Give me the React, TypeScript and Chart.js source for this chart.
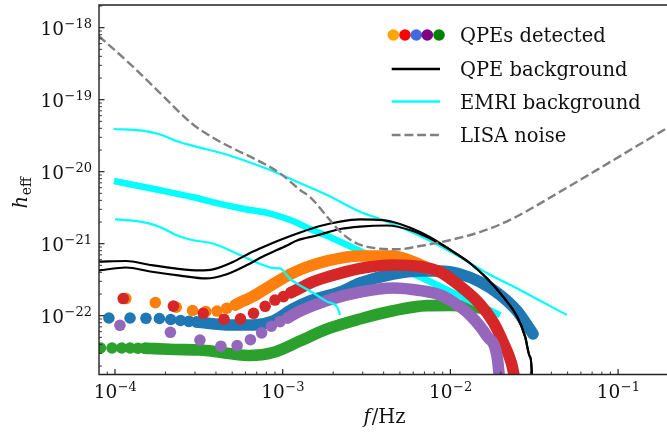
import React, { useEffect, useRef } from 'react';
import { Chart, registerables } from 'chart.js';

Chart.register(...registerables);

// ---------- axes ----------
const X_MIN = 8.03e-5;
const X_MAX = 0.1957;
const Y_MIN = 1.525e-23;
const Y_MAX = 2.066e-18;
const X_MAJOR = [1e-4, 1e-3, 1e-2, 1e-1];
const X_MAJOR_EXP = ['−4', '−3', '−2', '−1'];
const Y_MAJOR = [1e-18, 1e-19, 1e-20, 1e-21, 1e-22];
const Y_MAJOR_EXP = ['−18', '−19', '−20', '−21', '−22'];
const X_DECADES = [1e-5, 1e-4, 1e-3, 1e-2, 1e-1];
const Y_DECADES = [1e-24, 1e-23, 1e-22, 1e-21, 1e-20, 1e-19, 1e-18];
const MINOR_MULTS = [2, 3, 4, 5, 6, 7, 8, 9];

// ---------- legend ----------
const LEGEND_LABELS = ['QPEs detected', 'QPE background', 'EMRI background', 'LISA noise'];
const LEGEND_DOT_COLORS = ['#ffa500', '#ff0000', '#4169e1', '#800080', '#008000'];

// ---------- LISA noise ----------
const LISA_F = [8.0e-5, 1.285e-4, 1.94e-4, 2.86e-4, 3.8e-4, 5.05e-4, 7.33e-4, 9.64e-4, 1.27e-3, 1.455e-3, 1.91e-3, 2.2e-3, 2.76e-3, 3.64e-3, 4.88e-3, 6.59e-3, 1.0e-2, 1.5e-2, 2.27e-2, 4.69e-2, 7.48e-2, 0.196];
const LISA_H = [7.7e-19, 2.85e-19, 1.12e-19, 4.7e-20, 3.0e-20, 2.11e-20, 1.38e-20, 9.5e-21, 5.57e-21, 4.45e-21, 2.14e-21, 1.47e-21, 1.01e-21, 8.63e-22, 8.36e-22, 9.29e-22, 1.125e-21, 1.45e-21, 2.14e-21, 5.57e-21, 1.06e-20, 4.05e-20];

// ---------- EMRI background ----------
const EMRI_TOP_F = [9.8e-5, 1.449e-4, 1.82e-4, 2.4e-4, 3.16e-4, 4.35e-4, 6.56e-4, 8.63e-4, 1.15e-3, 1.84e-3, 2.89e-3, 3.96e-3, 6.59e-3, 8.67e-3, 1.14e-2, 1.65e-2, 2.6e-2, 4.95e-2];
const EMRI_TOP_H = [3.92e-20, 3.71e-20, 3.34e-20, 2.61e-20, 2.18e-20, 1.8e-20, 1.31e-20, 1.03e-20, 7.67e-21, 4.74e-21, 2.78e-21, 2.13e-21, 1.28e-21, 9.29e-22, 6.53e-22, 3.92e-22, 2.28e-22, 1.02e-22];
const EMRI_MID_F = [9.86e-5, 1.83e-4, 2.88e-4, 4.17e-4, 5.71e-4, 8.63e-4, 1.15e-3, 1.455e-3, 1.91e-3, 2.89e-3, 4.36e-3, 6.59e-3, 1.14e-2, 1.98e-2];
const EMRI_MID_H = [7.43e-21, 5.57e-21, 4.45e-21, 3.61e-21, 3.08e-21, 2.58e-21, 2.07e-21, 1.6e-21, 1.24e-21, 7.92e-22, 5.22e-22, 3.44e-22, 1.88e-22, 1.02e-22];
const EMRI_LOW_F = [1.0e-4, 1.41e-4, 1.85e-4, 2.31e-4, 2.88e-4, 3.84e-4, 5.56e-4, 7.63e-4, 8.75e-4, 9.64e-4, 1.106e-3, 1.455e-3, 1.84e-3, 2.11e-3, 2.2e-3];
const EMRI_LOW_H = [2.18e-21, 2.02e-21, 1.71e-21, 1.32e-21, 1.125e-21, 1.006e-21, 6.97e-22, 5.06e-22, 4.59e-22, 4.53e-22, 3.24e-22, 2.2e-22, 1.57e-22, 1.32e-22, 1.02e-22];

// ---------- QPE background ----------
const QPE_BG_UP_F = [8.03e-5, 1.164e-4, 1.62e-4, 2.28e-4, 3.21e-4, 3.84e-4, 5.05e-4, 6.38e-4, 8.05e-4, 9.64e-4, 1.27e-3, 1.67e-3, 2.2e-3, 2.89e-3, 3.96e-3, 5.0e-3, 6.59e-3, 8.67e-3, 1.037e-2, 1.31e-2, 1.65e-2, 2.06e-2, 2.5e-2, 2.79e-2, 2.98e-2, 3.06e-2, 3.07e-2];
const QPE_BG_UP_H = [5.62e-22, 5.75e-22, 5.06e-22, 4.53e-22, 4.25e-22, 4.39e-22, 5.57e-22, 7.43e-22, 9.44e-22, 1.125e-21, 1.43e-21, 1.76e-21, 2.03e-21, 2.17e-21, 2.13e-21, 1.88e-21, 1.45e-21, 1.02e-21, 7.75e-22, 5.35e-22, 3.31e-22, 1.84e-22, 9.68e-23, 5.11e-23, 2.7e-23, 1.5e-23, 1e-24];
const QPE_BG_LOW_F = [8.03e-5, 1.164e-4, 1.62e-4, 2.44e-4, 3.49e-4, 4.59e-4, 5.96e-4, 7.83e-4, 1.06e-3, 1.217e-3, 1.6e-3, 2.2e-3, 2.89e-3, 4.19e-3, 5.98e-3, 7.87e-3, 1.037e-2, 1.31e-2, 1.65e-2, 2.06e-2, 2.5e-2, 2.79e-2, 2.98e-2, 3.06e-2, 3.07e-2];
const QPE_BG_LOW_H = [4.25e-22, 4.67e-22, 4.11e-22, 3.61e-22, 3.29e-22, 3.73e-22, 4.9e-22, 6.85e-22, 9.44e-22, 1.107e-21, 1.3e-21, 1.6e-21, 1.73e-21, 1.79e-21, 1.5e-21, 1.125e-21, 7.75e-22, 5.35e-22, 3.31e-22, 1.84e-22, 9.68e-23, 5.11e-23, 2.7e-23, 1.5e-23, 1e-24];

// ---------- QPEs detected (sparse harmonics + dense part) ----------
const ORANGE_DOT_F = [1.16e-4, 1.74e-4, 2.32e-4, 2.9e-4, 3.48e-4, 4.06e-4, 4.64e-4, 5.22e-4];
const ORANGE_DOT_H = [1.73e-22, 1.52e-22, 1.31e-22, 1.18e-22, 1.14e-22, 1.16e-22, 1.27e-22, 1.41e-22];
const ORANGE_BAND_F = [5.22e-4, 5.8e-4, 6.56e-4, 8.05e-4, 1.15e-3, 1.84e-3, 2.89e-3, 4.55e-3, 5.74e-3, 7.55e-3];
const ORANGE_BAND_H = [1.41e-22, 1.6e-22, 1.82e-22, 2.43e-22, 3.92e-22, 5.75e-22, 6.75e-22, 6.75e-22, 5.85e-22, 4.46e-22];

const RED_DOT_F = [1.12e-4, 2.23e-4, 3.36e-4, 4.47e-4, 5.6e-4, 6.7e-4, 7.86e-4, 8.99e-4, 1.01e-3, 1.12e-3];
const RED_DOT_H = [1.73e-22, 1.36e-22, 1.08e-22, 8.93e-23, 9.05e-23, 1.08e-22, 1.35e-22, 1.65e-22, 1.84e-22, 2.09e-22];
const RED_BAND_F = [1.12e-3, 1.23e-3, 1.455e-3, 1.84e-3, 2.89e-3, 4.55e-3, 6.59e-3, 8.67e-3, 1.14e-2, 1.5e-2, 1.8e-2, 2.06e-2, 2.31e-2, 2.46e-2];
const RED_BAND_H = [2.09e-22, 2.33e-22, 2.84e-22, 3.44e-22, 4.53e-22, 5.06e-22, 4.82e-22, 4.05e-22, 2.58e-22, 1.45e-22, 8.17e-23, 4.31e-23, 2.2e-23, 1.1e-23];

const BLUE_DOT_F = [9.2e-5, 1.23e-4, 1.53e-4, 1.84e-4, 2.15e-4, 2.46e-4, 2.76e-4, 3.07e-4];
const BLUE_DOT_H = [9.29e-23, 9.29e-23, 9.2e-23, 9.14e-23, 8.85e-23, 8.57e-23, 8.35e-23, 8.18e-23];
const BLUE_BAND_F = [3.07e-4, 4.85e-4, 6.65e-4, 8.75e-4, 1.15e-3, 1.455e-3, 2.2e-3, 2.89e-3, 4.55e-3, 6.59e-3, 8.67e-3, 1.14e-2, 1.5e-2, 1.98e-2, 2.5e-2, 3.11e-2];
const BLUE_BAND_H = [8.18e-23, 7.43e-23, 7.43e-23, 8.43e-23, 1.24e-22, 1.6e-22, 2.13e-22, 2.84e-22, 3.79e-22, 4.18e-22, 4.18e-22, 3.79e-22, 2.94e-22, 1.94e-22, 1.16e-22, 5.57e-23];

const PURPLE_DOT_F = [1.07e-4, 2.14e-4, 3.21e-4, 4.28e-4, 5.35e-4, 6.42e-4, 7.49e-4, 8.56e-4, 9.63e-4, 1.07e-3];
const PURPLE_DOT_H = [7.36e-23, 5.88e-23, 4.59e-23, 3.77e-23, 3.85e-23, 4.64e-23, 5.78e-23, 7.13e-23, 8.26e-23, 9.29e-23];
const PURPLE_BAND_F = [1.07e-3, 1.27e-3, 1.84e-3, 2.89e-3, 4.55e-3, 6.59e-3, 8.67e-3, 1.037e-2, 1.31e-2, 1.65e-2, 1.9e-2, 1.98e-2];
const PURPLE_BAND_H = [9.29e-23, 1.16e-22, 1.63e-22, 2.13e-22, 2.43e-22, 2.24e-22, 1.94e-22, 1.55e-22, 1.02e-22, 5.22e-23, 2.67e-23, 1.1e-23];

const GREEN_DOT_F = [8.2e-5, 9.6e-5, 1.096e-4, 1.23e-4, 1.37e-4, 1.51e-4];
const GREEN_DOT_H = [3.56e-23, 3.56e-23, 3.56e-23, 3.56e-23, 3.53e-23, 3.53e-23];
const GREEN_BAND_F = [1.51e-4, 1.64e-4, 2.28e-4, 3.21e-4, 3.94e-4, 5.05e-4, 6.38e-4, 8.75e-4, 1.27e-3, 1.84e-3, 2.89e-3, 4.55e-3, 7.24e-3, 1.0e-2, 1.52e-2];
const GREEN_BAND_H = [3.53e-23, 3.5e-23, 3.4e-23, 3.34e-23, 3.18e-23, 2.94e-23, 2.8e-23, 3.08e-23, 4.46e-23, 6.53e-23, 9.0e-23, 1.17e-22, 1.38e-22, 1.39e-22, 1.28e-22];

// ---------- styles ----------
const C_ORANGE = '#ff7f0e';
const C_RED = '#d62728';
const C_BLUE = '#1f77b4';
const C_PURPLE = '#9467bd';
const C_GREEN = '#2ca02c';
const C_CYAN = '#00ffff';
const C_GRAY = '#808080';
const SERIF = '"DejaVu Serif", serif';
const DOT_R = 5.8;
const BAND_W = 11.6;
const DASH = [8.9, 3.85];

const pts = (f: number[], h: number[]) => f.map((x, i) => ({ x, y: h[i] }));

function dots(f: number[], h: number[], color: string, order: number) {
  return {
    data: pts(f, h),
    showLine: false,
    pointRadius: DOT_R,
    pointBackgroundColor: color,
    pointBorderColor: color,
    pointBorderWidth: 0,
    order,
    clip: 0,
  };
}

function line(f: number[], h: number[], color: string, width: number, order: number, extra: any = {}) {
  return {
    data: pts(f, h),
    showLine: true,
    pointRadius: 0,
    borderColor: color,
    backgroundColor: color,
    borderWidth: width,
    borderCapStyle: 'round',
    borderJoinStyle: 'round',
    cubicInterpolationMode: 'monotone',
    fill: false,
    order,
    clip: 0,
    ...extra,
  };
}

const decorPlugin = {
  id: 'decor',
  afterDraw(chart: any) {
    const { ctx, chartArea: a, scales } = chart;
    const xs = scales.x;
    const ys = scales.y;
    ctx.save();
    // spines
    ctx.strokeStyle = '#222';
    ctx.lineWidth = 1.4;
    ctx.beginPath();
    ctx.moveTo(a.left, a.bottom);
    ctx.lineTo(a.left, a.top);
    ctx.lineTo(a.right + 2, a.top);
    ctx.moveTo(a.left - 0.7, a.bottom);
    ctx.lineTo(a.right + 2, a.bottom);
    ctx.stroke();

    // ticks (inward)
    const xTick = (v: number, len: number, w: number) => {
      const px = xs.getPixelForValue(v);
      if (px < a.left + 0.5 || px > a.right) return;
      ctx.lineWidth = w;
      ctx.beginPath();
      ctx.moveTo(px, a.bottom);
      ctx.lineTo(px, a.bottom - len);
      ctx.stroke();
    };
    const yTick = (v: number, len: number, w: number) => {
      const py = ys.getPixelForValue(v);
      if (py < a.top + 0.5 || py > a.bottom - 0.5) return;
      ctx.lineWidth = w;
      ctx.beginPath();
      ctx.moveTo(a.left, py);
      ctx.lineTo(a.left + len, py);
      ctx.stroke();
    };
    X_DECADES.forEach((d) => MINOR_MULTS.forEach((m) => xTick(d * m, 3, 0.9)));
    X_MAJOR.forEach((v) => xTick(v, 5.5, 1.2));
    Y_DECADES.forEach((d) => MINOR_MULTS.forEach((m) => yTick(d * m, 3, 0.9)));
    Y_MAJOR.forEach((v) => yTick(v, 5.5, 1.2));

    // tick labels
    ctx.fillStyle = '#111';
    ctx.textBaseline = 'alphabetic';
    ctx.textAlign = 'left';
    const BIG = `18.5px ${SERIF}`;
    const SMALL = `13px ${SERIF}`;
    X_MAJOR.forEach((v, i) => {
      const px = xs.getPixelForValue(v);
      ctx.font = BIG;
      const w1 = ctx.measureText('10').width;
      ctx.font = SMALL;
      const w2 = ctx.measureText(X_MAJOR_EXP[i]).width;
      const left = px - (w1 + w2) / 2;
      ctx.font = BIG;
      ctx.fillText('10', left, 398);
      ctx.font = SMALL;
      ctx.fillText(X_MAJOR_EXP[i], left + w1 + 0.5, 390.5);
    });
    Y_MAJOR.forEach((v, i) => {
      const py = ys.getPixelForValue(v);
      ctx.font = BIG;
      const w1 = ctx.measureText('10').width;
      ctx.font = SMALL;
      const w2 = ctx.measureText(Y_MAJOR_EXP[i]).width;
      const right = 92;
      const left = right - w1 - w2 - 0.5;
      ctx.font = BIG;
      ctx.fillText('10', left, py + 7.2);
      ctx.font = SMALL;
      ctx.fillText(Y_MAJOR_EXP[i], left + w1 + 0.5, py + 0.3);
    });

    // x label  f/Hz
    {
      const fI = `italic 19.5px ${SERIF}`;
      const fR = `19.5px ${SERIF}`;
      ctx.font = fI;
      const w1 = ctx.measureText('f').width;
      ctx.font = fR;
      const w2 = ctx.measureText('/Hz').width;
      const left = 384 - (w1 + w2) / 2;
      ctx.font = fI;
      ctx.fillText('f', left, 423);
      ctx.font = fR;
      ctx.fillText('/Hz', left + w1 + 1, 423);
    }
    // y label  h_eff
    {
      ctx.save();
      ctx.translate(27, 193);
      ctx.rotate(-Math.PI / 2);
      const fI = `italic 19.5px ${SERIF}`;
      const fS = `14px ${SERIF}`;
      ctx.font = fI;
      const w1 = ctx.measureText('h').width;
      ctx.font = fS;
      const w2 = ctx.measureText('eff').width;
      const left = -(w1 + w2) / 2;
      ctx.font = fI;
      ctx.fillText('h', left, 0);
      ctx.font = fS;
      ctx.fillText('eff', left + w1 + 0.5, 3.5);
      ctx.restore();
    }

    // legend
    const rows = [35, 69, 101.5, 135];
    const lx0 = 391.7;
    const lx1 = 440;
    const DOT_X = [393.3, 405, 416.3, 427.3, 439];
    LEGEND_DOT_COLORS.forEach((c, i) => {
      ctx.fillStyle = c;
      ctx.beginPath();
      ctx.arc(DOT_X[i], rows[0], DOT_R, 0, Math.PI * 2);
      ctx.fill();
    });
    ctx.lineCap = 'butt';
    ctx.lineWidth = 2.3;
    ctx.strokeStyle = '#000';
    ctx.beginPath();
    ctx.moveTo(lx0, rows[1]);
    ctx.lineTo(lx1, rows[1]);
    ctx.stroke();
    ctx.strokeStyle = C_CYAN;
    ctx.beginPath();
    ctx.moveTo(lx0, rows[2]);
    ctx.lineTo(lx1, rows[2]);
    ctx.stroke();
    ctx.strokeStyle = C_GRAY;
    ctx.lineWidth = 2.4;
    ctx.setLineDash(DASH);
    ctx.beginPath();
    ctx.moveTo(lx0, rows[3]);
    ctx.lineTo(lx1 + 1, rows[3]);
    ctx.stroke();
    ctx.setLineDash([]);
    ctx.fillStyle = '#111';
    ctx.font = `19.5px ${SERIF}`;
    LEGEND_LABELS.forEach((t, i) => {
      ctx.fillText(t, 460, rows[i] + 7);
    });
    ctx.restore();
  },
};

export default function App() {
  const ref = useRef<HTMLCanvasElement>(null);
  useEffect(() => {
    if (!ref.current) return;
    const datasets: any[] = [
      dots(GREEN_DOT_F, GREEN_DOT_H, C_GREEN, 20),
      line(GREEN_BAND_F, GREEN_BAND_H, C_GREEN, BAND_W, 20),
      line(EMRI_MID_F, EMRI_MID_H, C_CYAN, 6.5, 18, { borderCapStyle: 'butt' }),
      dots(BLUE_DOT_F, BLUE_DOT_H, C_BLUE, 16),
      line(BLUE_BAND_F, BLUE_BAND_H, C_BLUE, BAND_W, 16),
      dots(ORANGE_DOT_F, ORANGE_DOT_H, C_ORANGE, 14),
      line(ORANGE_BAND_F, ORANGE_BAND_H, C_ORANGE, BAND_W, 14),
      dots(RED_DOT_F, RED_DOT_H, C_RED, 12),
      line(RED_BAND_F, RED_BAND_H, C_RED, BAND_W, 12),
      dots(PURPLE_DOT_F, PURPLE_DOT_H, C_PURPLE, 10),
      line(PURPLE_BAND_F, PURPLE_BAND_H, C_PURPLE, BAND_W, 10),
      line(EMRI_TOP_F, EMRI_TOP_H, C_CYAN, 2.2, 8, { borderCapStyle: 'butt' }),
      line(EMRI_LOW_F, EMRI_LOW_H, C_CYAN, 2.2, 8, { borderCapStyle: 'butt' }),
      line(QPE_BG_UP_F, QPE_BG_UP_H, '#000000', 2.2, 6, { borderCapStyle: 'butt' }),
      line(QPE_BG_LOW_F, QPE_BG_LOW_H, '#000000', 2.2, 6, { borderCapStyle: 'butt' }),
      line(LISA_F, LISA_H, C_GRAY, 2.4, 4, { borderCapStyle: 'butt', borderDash: DASH }),
    ];
    const chart = new Chart(ref.current, {
      type: 'scatter',
      data: { datasets },
      options: {
        animation: false,
        responsive: false,
        devicePixelRatio: 1,
        events: [],
        layout: { autoPadding: false, padding: { left: 99, right: 0, top: 5, bottom: 57.5 } },
        plugins: { legend: { display: false }, tooltip: { enabled: false } },
        scales: {
          x: { type: 'logarithmic', min: X_MIN, max: X_MAX, display: false },
          y: { type: 'logarithmic', min: Y_MIN, max: Y_MAX, display: false },
        },
      },
      plugins: [decorPlugin],
    } as any);
    return () => chart.destroy();
  }, []);
  return (
    <div style={{ position: 'fixed', left: 0, top: 0, width: 667, height: 432, background: '#fff' }}>
      <canvas ref={ref} width={667} height={432} style={{ display: 'block', width: 667, height: 432 }} />
    </div>
  );
}
